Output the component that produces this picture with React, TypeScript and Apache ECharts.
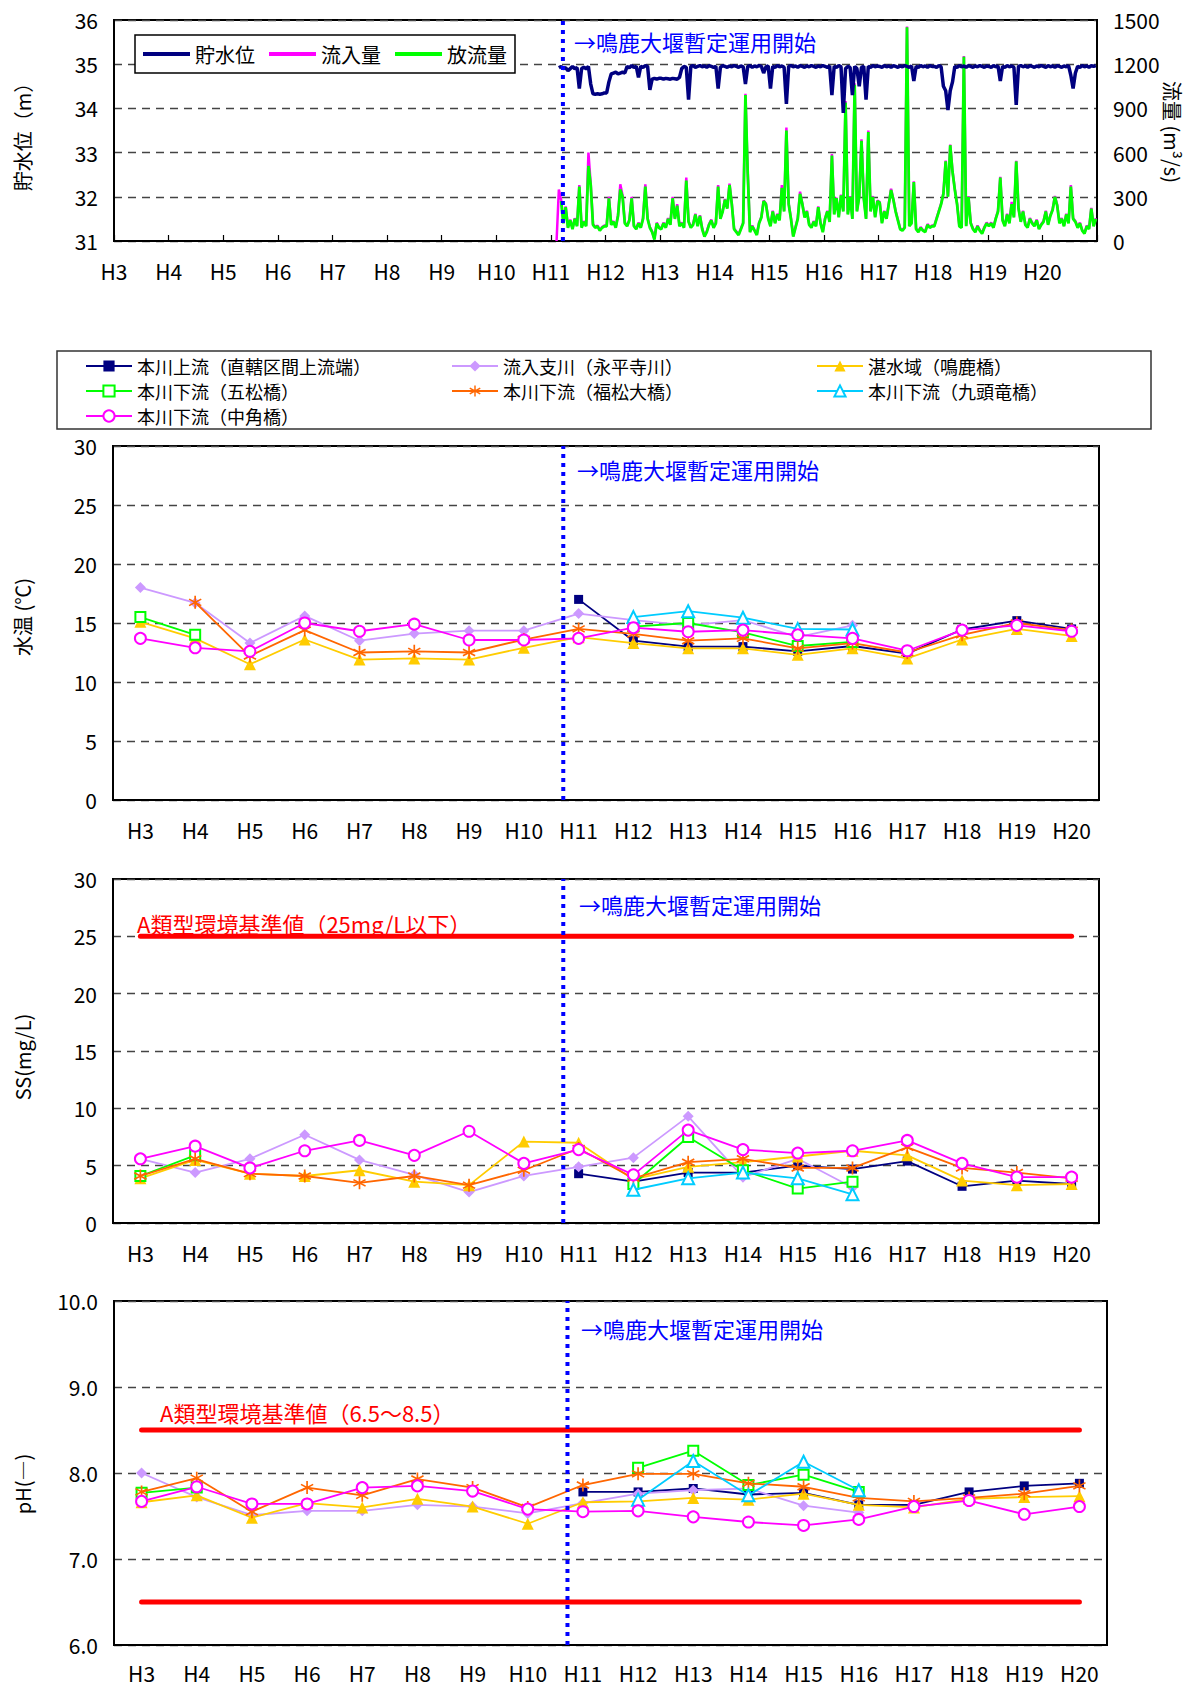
import React, { useEffect, useRef } from 'react';
import * as echarts from 'echarts';

// ---------- common ----------
const yearLabels = ['H3', 'H4', 'H5', 'H6', 'H7', 'H8', 'H9', 'H10', 'H11', 'H12', 'H13', 'H14', 'H15', 'H16', 'H17', 'H18', 'H19', 'H20'];
const damStartYear = 8.22; // years after start of H3 (鳴鹿大堰暫定運用開始)
const dataFirstYear = 11; // daily-type series start in H11
const samplesPerYear = 24;

// ---------- 貯水位 (m), semi-monthly estimates ----------
const levelH11 = [null, null, null, 34.92, 34.95, 34.9, 34.92, 34.85, 34.9, 34.95, 34.9, 34.92, 34.45, 34.9, 34.93, 34.9, 34.95, 34.55, 34.33, 34.32, 34.33, 34.32, 34.33, 34.35];
const levelH12 = [34.35, 34.6, 34.78, 34.8, 34.82, 34.78, 34.8, 34.82, 34.8, 34.95, 34.92, 34.97, 34.93, 34.95, 34.7, 34.95, 34.93, 34.97, 34.95, 34.42, 34.66, 34.68, 34.66, 34.68];
const levelH13 = [34.68, 34.66, 34.68, 34.67, 34.66, 34.68, 34.67, 34.66, 34.7, 34.9, 34.95, 34.93, 34.2, 34.95, 34.97, 34.93, 34.95, 34.97, 34.94, 34.96, 34.93, 34.97, 34.95, 34.93];
const levelH14 = [34.95, 34.45, 34.93, 34.97, 34.95, 34.93, 34.96, 34.94, 34.97, 34.95, 34.93, 34.96, 34.94, 34.55, 34.95, 34.97, 34.93, 34.96, 34.94, 34.97, 34.95, 34.8, 34.94, 34.96];
const levelH15 = [34.45, 34.95, 34.93, 34.97, 34.94, 34.96, 34.93, 34.1, 34.95, 34.97, 34.94, 34.96, 34.93, 34.97, 34.95, 34.93, 34.96, 34.94, 34.97, 34.95, 34.93, 34.96, 34.94, 34.97];
const levelH16 = [34.95, 34.93, 34.96, 34.3, 34.95, 34.93, 34.97, 34.94, 33.9, 34.9, 34.95, 34.93, 34.3, 34.95, 34.9, 34.5, 34.93, 34.95, 34.2, 34.95, 34.93, 34.97, 34.94, 34.96];
const levelH17 = [34.95, 34.93, 34.97, 34.94, 34.96, 34.93, 34.97, 34.95, 34.93, 34.96, 34.94, 34.97, 34.95, 34.93, 34.96, 34.62, 34.95, 34.93, 34.97, 34.94, 34.96, 34.93, 34.97, 34.95];
const levelH18 = [34.95, 34.93, 34.97, 34.94, 34.5, 34.4, 33.96, 34.4, 34.6, 34.95, 34.93, 34.97, 34.94, 34.96, 34.93, 34.97, 34.95, 34.93, 34.96, 34.94, 34.97, 34.95, 34.93, 34.96];
const levelH19 = [34.95, 34.93, 34.97, 34.94, 34.96, 34.62, 34.95, 34.93, 34.97, 34.94, 34.96, 34.93, 34.08, 34.95, 34.97, 34.94, 34.96, 34.93, 34.97, 34.95, 34.93, 34.96, 34.94, 34.97];
const levelH20 = [34.95, 34.93, 34.97, 34.94, 34.96, 34.93, 34.97, 34.95, 34.93, 34.96, 34.94, 34.97, 34.75, 34.45, 34.8, 34.95, 34.93, 34.97, 34.94, 34.96, 34.93, 34.97, 34.95, 34.97];

// ---------- 流入量 (m3/s) ----------
const inflowH11 = [null, null, 0, 350, 280, 125, 235, 95, 145, 85, 155, 105, 380, 95, 135, 105, 600, 390, 115, 95, 105, 75, 95, 105];
const inflowH12 = [105, 300, 115, 135, 95, 175, 385, 310, 125, 105, 145, 300, 105, 85, 125, 95, 155, 385, 155, 95, 65, 15, 125, 95];
const inflowH13 = [85, 125, 95, 155, 115, 300, 155, 250, 105, 125, 95, 430, 135, 95, 115, 185, 105, 175, 85, 35, 65, 115, 145, 95];
const inflowH14 = [125, 380, 155, 205, 285, 225, 390, 255, 85, 65, 45, 85, 125, 1000, 470, 65, 105, 75, 45, 125, 165, 275, 255, 155];
const inflowH15 = [105, 205, 125, 185, 145, 380, 205, 770, 255, 155, 35, 95, 155, 335, 255, 165, 205, 115, 95, 135, 105, 235, 125, 65];
const inflowH16 = [155, 205, 135, 590, 185, 295, 165, 315, 205, 950, 185, 305, 155, 1070, 205, 305, 690, 295, 155, 750, 205, 305, 165, 275];
const inflowH17 = [265, 125, 205, 155, 255, 355, 285, 205, 145, 85, 75, 95, 1455, 105, 125, 405, 85, 65, 95, 75, 65, 115, 95, 105];
const inflowH18 = [105, 155, 205, 255, 325, 545, 305, 655, 475, 355, 255, 105, 95, 1255, 105, 305, 125, 85, 65, 105, 75, 55, 95, 125];
const inflowH19 = [105, 125, 95, 155, 205, 435, 145, 105, 185, 125, 265, 165, 545, 225, 135, 205, 115, 95, 155, 125, 105, 145, 85, 115];
const inflowH20 = [135, 205, 115, 175, 215, 305, 245, 125, 155, 105, 185, 125, 380, 155, 135, 95, 125, 75, 55, 105, 85, 225, 105, 155];

// ---------- 放流量 (m3/s) ----------
const outflowH11 = [null, null, null, null, 270, 120, 230, 90, 140, 80, 150, 100, 370, 90, 130, 100, 510, 380, 110, 90, 100, 70, 90, 100];
const outflowH12 = [100, 290, 110, 130, 90, 170, 350, 300, 120, 100, 140, 290, 100, 80, 120, 90, 150, 370, 150, 90, 60, 10, 120, 90];
const outflowH13 = [80, 120, 90, 150, 110, 290, 150, 240, 100, 120, 90, 410, 130, 90, 110, 180, 100, 170, 80, 30, 60, 110, 140, 90];
const outflowH14 = [120, 370, 150, 200, 280, 220, 380, 250, 80, 60, 40, 80, 120, 990, 460, 60, 100, 70, 40, 120, 160, 270, 250, 150];
const outflowH15 = [100, 200, 120, 180, 140, 360, 200, 750, 250, 150, 30, 90, 150, 320, 250, 160, 200, 110, 90, 130, 100, 230, 120, 60];
const outflowH16 = [150, 200, 130, 580, 180, 290, 160, 310, 200, 940, 180, 300, 150, 1060, 200, 300, 680, 290, 150, 740, 200, 300, 160, 270];
const outflowH17 = [260, 120, 200, 150, 250, 346, 280, 200, 140, 80, 70, 90, 1450, 100, 120, 400, 80, 60, 90, 70, 60, 110, 90, 100];
const outflowH18 = [100, 150, 200, 250, 320, 540, 300, 650, 470, 350, 250, 100, 90, 1250, 100, 300, 120, 80, 60, 100, 70, 50, 90, 120];
const outflowH19 = [100, 120, 90, 150, 200, 430, 140, 100, 180, 120, 250, 160, 540, 220, 130, 200, 110, 90, 150, 120, 100, 140, 80, 110];
const outflowH20 = [130, 200, 110, 170, 210, 300, 240, 120, 150, 100, 180, 120, 370, 150, 130, 90, 120, 70, 50, 100, 80, 220, 100, 150];

const levelByYear = [levelH11, levelH12, levelH13, levelH14, levelH15, levelH16, levelH17, levelH18, levelH19, levelH20];
const inflowByYear = [inflowH11, inflowH12, inflowH13, inflowH14, inflowH15, inflowH16, inflowH17, inflowH18, inflowH19, inflowH20];
const outflowByYear = [outflowH11, outflowH12, outflowH13, outflowH14, outflowH15, outflowH16, outflowH17, outflowH18, outflowH19, outflowH20];

// ---------- water quality stations ----------
const stationNames = [
  '本川上流（直轄区間上流端）',
  '流入支川（永平寺川）',
  '湛水域（鳴鹿橋）',
  '本川下流（五松橋）',
  '本川下流（福松大橋）',
  '本川下流（九頭竜橋）',
  '本川下流（中角橋）',
];
const _ = null;

// 水温 (℃)
const tempUpstream = [_, _, _, _, _, _, _, _, 17.0, 13.5, 13.0, 13.0, 12.6, 13.05, 12.4, 14.45, 15.2, 14.5];
const tempTributary = [18.0, 16.7, 13.3, 15.6, 13.5, 14.1, 14.35, 14.35, 15.8, 15.25, 14.8, 15.25, 13.8, 14.8, _, _, _, _];
const tempReservoir = [15.1, 13.7, 11.5, 13.6, 11.9, 12.0, 11.9, 12.9, 13.8, 13.3, 12.85, 12.85, 12.3, 12.85, 12.0, 13.6, 14.5, 13.9];
const tempGoshou = [15.5, 14.0, _, _, _, _, _, _, _, 14.7, 15.0, 14.2, 13.05, 13.4, _, _, _, _];
const tempFukumatsu = [_, 16.75, 12.2, 14.4, 12.5, 12.6, 12.5, 13.6, 14.5, 14.07, 13.5, 13.7, 12.85, 13.3, 12.5, 14.0, 15.0, 14.4];
const tempKuzuryu = [_, _, _, _, _, _, _, _, _, 15.5, 16.0, 15.45, 14.5, 14.45, _, _, _, _];
const tempNakatsuno = [13.7, 12.9, 12.6, 15.0, 14.3, 14.9, 13.56, 13.56, 13.7, 14.6, 14.26, 14.4, 14.0, 13.7, 12.65, 14.4, 14.8, 14.3];

// SS (mg/L)
const ssUpstream = [_, _, _, _, _, _, _, _, 4.3, 3.6, 4.4, 4.4, 5.0, 4.7, 5.4, 3.2, 3.7, 3.4];
const ssTributary = [5.6, 4.4, 5.6, 7.7, 5.5, 4.2, 2.7, 4.1, 4.9, 5.7, 9.3, 4.0, 5.6, 3.1, _, _, _, _];
const ssReservoir = [3.9, 5.5, 4.3, 4.1, 4.6, 3.6, 3.3, 7.1, 7.0, 3.8, 4.9, 5.3, 5.8, 6.3, 5.9, 3.7, 3.3, 3.4];
const ssGoshou = [4.1, 5.9, _, _, _, _, _, _, _, 3.4, 7.5, 4.6, 3.0, 3.6, _, _, _, _];
const ssFukumatsu = [4.1, 5.6, 4.3, 4.1, 3.5, 4.1, 3.3, 4.6, 6.5, 3.9, 5.3, 5.6, 4.8, 4.8, 6.6, 4.8, 4.4, 3.9];
const ssKuzuryu = [_, _, _, _, _, _, _, _, _, 2.9, 3.9, 4.4, 3.9, 2.5, _, _, _, _];
const ssNakatsuno = [5.6, 6.7, 4.8, 6.3, 7.2, 5.9, 8.0, 5.2, 6.4, 4.2, 8.1, 6.4, 6.1, 6.3, 7.2, 5.2, 4.0, 4.0];
const ssStandard = 25;

// pH
const phUpstream = [_, _, _, _, _, _, _, _, 7.78, 7.78, 7.82, 7.75, 7.77, 7.63, 7.63, 7.78, 7.85, 7.88];
const phTributary = [8.0, 7.72, 7.51, 7.56, 7.56, 7.63, 7.61, 7.53, 7.65, 7.76, 7.8, 7.82, 7.62, 7.54, _, _, _, _];
const phReservoir = [7.66, 7.74, 7.48, 7.65, 7.6, 7.7, 7.61, 7.41, 7.66, 7.67, 7.71, 7.69, 7.76, 7.63, 7.6, 7.7, 7.72, 7.73];
const phGoshou = [7.77, 7.83, _, _, _, _, _, _, _, 8.06, 8.26, 7.86, 7.98, 7.78, _, _, _, _];
const phFukumatsu = [7.78, 7.94, 7.55, 7.83, 7.74, 7.93, 7.83, 7.6, 7.86, 7.99, 7.99, 7.88, 7.84, 7.71, 7.67, 7.71, 7.76, 7.85];
const phKuzuryu = [_, _, _, _, _, _, _, _, _, 7.69, 8.14, 7.74, 8.13, 7.8, _, _, _, _];
const phNakatsuno = [7.67, 7.84, 7.64, 7.64, 7.83, 7.85, 7.79, 7.58, 7.55, 7.56, 7.49, 7.43, 7.39, 7.46, 7.61, 7.68, 7.52, 7.61];
const phStandardUpper = 8.5;
const phStandardLower = 6.5;

// ---------- styles ----------
const JP = '"Noto Sans CJK JP", "Noto Sans CJK SC", sans-serif';
const NUM = '"Noto Sans CJK JP", sans-serif';
const ASTERISK = 'path://M4.4 0L4.4 10L5.6 10L5.6 0ZM0.37 3.02L9.03 8.02L9.63 6.98L0.97 1.98ZM0.97 8.02L9.63 3.02L9.03 1.98L0.37 6.98Z';
const stationStyles = [
  { color: '#000080', symbol: 'rect', size: 9 },
  { color: '#CC99FF', symbol: 'diamond', size: 11 },
  { color: '#FFCC00', symbol: 'triangle', size: 12 },
  { color: '#00FF00', symbol: 'emptyRect', size: 10 },
  { color: '#FF6600', symbol: ASTERISK, size: 13 },
  { color: '#00CCFF', symbol: 'emptyTriangle', size: 12 },
  { color: '#FF00FF', symbol: 'emptyCircle', size: 11 },
];

function toTimePairs(byYear: (number | null)[][]) {
  const out: (number | null)[][] = [];
  byYear.forEach((arr, k) => {
    arr.forEach((v, i) => {
      out.push([dataFirstYear - 3 + k + (i + 0.5) / samplesPerYear, v]);
    });
  });
  return out;
}

const splitDash = { show: true, lineStyle: { type: [8, 6] as any, color: '#444', width: 1.3 } };
const numLabel = { color: '#000', fontSize: 21, fontFamily: NUM, lineHeight: 20 };

function catXAxis(gridIndex: number, margin = 20) {
  return {
    type: 'category', gridIndex, data: yearLabels, boundaryGap: true,
    axisLine: { lineStyle: { color: '#000', width: 2 } },
    axisTick: { inside: true, length: 6, lineStyle: { color: '#000', width: 1.2 } },
    axisLabel: { ...numLabel, margin, interval: 0 },
    splitLine: { show: false },
  };
}
function hiddenXAxis(gridIndex: number) {
  return { type: 'value', gridIndex, min: 0, max: 18, show: false };
}
function valYAxis(gridIndex: number, min: number, max: number, interval: number, digits = 0) {
  return {
    type: 'value', gridIndex, min, max, interval,
    axisLine: { show: true, lineStyle: { color: '#000', width: 2 } },
    axisTick: { show: false },
    axisLabel: { ...numLabel, margin: 16, formatter: (v: number) => v.toFixed(digits) },
    splitLine: splitDash,
  };
}

function stationSeries(datasets: (number | null)[][], xAxisIndex: number, yAxisIndex: number) {
  return datasets.map((d, s) => ({
    type: 'line', name: stationNames[s], xAxisIndex, yAxisIndex, data: d,
    symbol: stationStyles[s].symbol, symbolSize: stationStyles[s].size,
    showAllSymbol: true, connectNulls: false,
    lineStyle: { color: stationStyles[s].color, width: 1.8 },
    itemStyle: { color: stationStyles[s].color, borderWidth: 1.5 },
    z: 3 + s * 0.1,
  }));
}
function damLine(xAxisIndex: number, yAxisIndex: number, yMin: number, yMax: number) {
  return {
    type: 'line', name: 'dam', xAxisIndex, yAxisIndex,
    data: [[damStartYear, yMin], [damStartYear, yMax]],
    symbol: 'none', silent: true,
    lineStyle: { color: '#0000FF', width: 4, type: [4, 5] as any, cap: 'butt' },
    z: 6,
  };
}
function standardLine(xAxisIndex: number, yAxisIndex: number, v: number) {
  return {
    type: 'line', name: 'std', xAxisIndex, yAxisIndex,
    data: [[yearLabels[0], v], [yearLabels[yearLabels.length - 1], v]],
    symbol: 'none', silent: true,
    lineStyle: { color: '#FF0000', width: 5, cap: 'round' },
    z: 2,
  };
}

function textEl(x: number, y: number, text: string, fill: string, fontSize: number, rotation = 0, align = 'left') {
  return {
    type: 'text', x, y, rotation, silent: true,
    style: {
      text, fill, fontSize, fontFamily: JP,
      align, verticalAlign: 'middle', textAlign: align, textVerticalAlign: 'middle',
    },
  };
}

function buildOption() {
  const grids = [
    { left: 114, top: 20, width: 983, height: 221 },
    { left: 113, top: 446, width: 986, height: 354 },
    { left: 113, top: 879, width: 986, height: 344 },
    { left: 114, top: 1301, width: 993, height: 344 },
  ].map((g) => ({ ...g, show: true, borderColor: '#000', borderWidth: 2, containLabel: false, outerBoundsMode: 'none' }));

  const xAxis = [
    {
      type: 'value', gridIndex: 0, min: 0, max: 18, interval: 1,
      axisLine: { lineStyle: { color: '#000', width: 2 } },
      axisTick: { inside: true, length: 6, lineStyle: { color: '#000', width: 1.2 } },
      axisLabel: { ...numLabel, margin: 20, formatter: (v: number) => (v < 18 ? yearLabels[v] : '') },
      splitLine: { show: false },
    },
    catXAxis(1), hiddenXAxis(1),
    catXAxis(2), hiddenXAxis(2),
    catXAxis(3, 18), hiddenXAxis(3),
  ];
  const yAxis = [
    valYAxis(0, 31, 36, 1),
    {
      type: 'value', gridIndex: 0, min: 0, max: 1500, interval: 300, position: 'right',
      axisLine: { show: true, lineStyle: { color: '#000', width: 2 } },
      axisTick: { show: false },
      axisLabel: { ...numLabel, margin: 16, formatter: (v: number) => String(v) },
      splitLine: { show: false },
    },
    valYAxis(1, 0, 30, 5),
    valYAxis(2, 0, 30, 5),
    valYAxis(3, 6, 10, 1, 1),
  ];

  const series: any[] = [
    {
      type: 'line', name: '流入量', xAxisIndex: 0, yAxisIndex: 1, data: toTimePairs(inflowByYear),
      symbol: 'none', lineStyle: { color: '#FF00FF', width: 2.5 }, itemStyle: { color: '#FF00FF' }, z: 2,
    },
    {
      type: 'line', name: '放流量', xAxisIndex: 0, yAxisIndex: 1, data: toTimePairs(outflowByYear),
      symbol: 'none', lineStyle: { color: '#00FF00', width: 2.8 }, itemStyle: { color: '#00FF00' }, z: 3,
    },
    {
      type: 'line', name: '貯水位', xAxisIndex: 0, yAxisIndex: 0, data: toTimePairs(levelByYear),
      symbol: 'none', lineStyle: { color: '#000080', width: 3.5 }, itemStyle: { color: '#000080' }, z: 4,
    },
    damLine(0, 0, 31, 36),
    ...stationSeries([tempUpstream, tempTributary, tempReservoir, tempGoshou, tempFukumatsu, tempKuzuryu, tempNakatsuno], 1, 2),
    damLine(2, 2, 0, 30),
    standardLine(3, 3, ssStandard),
    ...stationSeries([ssUpstream, ssTributary, ssReservoir, ssGoshou, ssFukumatsu, ssKuzuryu, ssNakatsuno], 3, 3),
    damLine(4, 3, 0, 30),
    standardLine(5, 4, phStandardUpper),
    standardLine(5, 4, phStandardLower),
    ...stationSeries([phUpstream, phTributary, phReservoir, phGoshou, phFukumatsu, phKuzuryu, phNakatsuno], 5, 4),
    damLine(6, 4, 6, 10),
  ];

  const legendText = { color: '#000', fontFamily: JP };
  const colLegend = (names: string[], left: number) => ({
    data: names, orient: 'vertical', left, top: 357, padding: 0,
    itemWidth: 46, itemHeight: 14, itemGap: 7, selectedMode: false,
    textStyle: { ...legendText, fontSize: 18, lineHeight: 18 },
  });
  const legend = [
    {
      data: ['貯水位', '流入量', '放流量'], left: 135, top: 35, orient: 'horizontal', icon: 'rect',
      itemWidth: 47, itemHeight: 4, itemGap: 14, padding: [9, 8, 9, 8], selectedMode: false,
      borderColor: '#000', borderWidth: 1.5, backgroundColor: '#fff',
      textStyle: { ...legendText, fontSize: 20, lineHeight: 20 },
    },
    colLegend([stationNames[0], stationNames[3], stationNames[6]], 85),
    colLegend([stationNames[1], stationNames[4]], 451),
    colLegend([stationNames[2], stationNames[5]], 816),
  ];

  const annotation = '→鳴鹿大堰暫定運用開始';
  const graphic = [
    { type: 'rect', shape: { x: 57, y: 351, width: 1094, height: 78 }, style: { fill: 'none', stroke: '#333', lineWidth: 1.5 }, silent: true },
    textEl(574, 41, annotation, '#0000FF', 22),
    textEl(577, 469, annotation, '#0000FF', 22),
    textEl(579, 904, annotation, '#0000FF', 22),
    textEl(581, 1328, annotation, '#0000FF', 22),
    textEl(137, 923, 'A類型環境基準値（25mg/L以下）', '#FF0000', 22),
    textEl(160, 1412, 'A類型環境基準値（6.5～8.5）', '#FF0000', 22),
    textEl(22, 132, '貯水位（m）', '#000', 20, Math.PI / 2, 'center'),
    textEl(1172, 132, '流量 (m³/s)', '#000', 20, -Math.PI / 2, 'center'),
    textEl(22, 617, '水温 (℃)', '#000', 20, Math.PI / 2, 'center'),
    textEl(22, 1057, 'SS(mg/L)', '#000', 20, Math.PI / 2, 'center'),
    textEl(22, 1484, 'pH(―)', '#000', 20, Math.PI / 2, 'center'),
  ];

  return {
    animation: false,
    backgroundColor: '#fff',
    textStyle: { fontFamily: JP },
    grid: grids,
    xAxis,
    yAxis,
    legend,
    series,
    graphic,
  };
}

export default function App() {
  const ref = useRef<HTMLDivElement>(null);
  useEffect(() => {
    const chart = echarts.init(ref.current as HTMLDivElement, null, { renderer: 'svg' });
    chart.setOption(buildOption() as any);
    return () => chart.dispose();
  }, []);
  return (
    <div
      ref={ref}
      style={{ position: 'absolute', left: 0, top: 0, width: 1188, height: 1687, background: '#fff' }}
    />
  );
}
